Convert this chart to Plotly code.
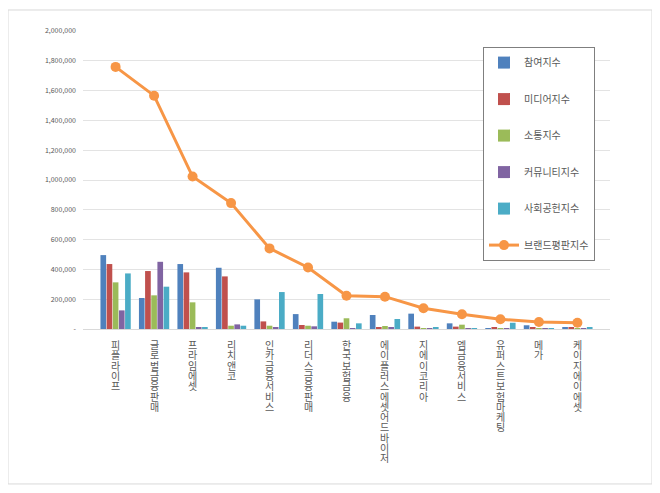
import plotly.graph_objects as go

categories = ["피플라이프", "글로벌금융판매", "프라임에셋", "리치앤코", "인카금융서비스",
              "리더스금융판매", "한국보험금융", "에이플러스에셋어드바이저", "지에이코리아",
              "엠금융서비스", "유퍼스트보험마케팅", "메가", "케이지에이에셋"]

participation = [496000, 208000, 436000, 411000, 199000, 100000, 49000, 94000, 103000, 38000, 3000, 25000, 11000]
media = [436000, 389000, 380000, 353000, 51000, 27000, 43000, 7000, 16000, 16000, 7000, 9000, 9000]
communication = [313000, 226000, 179000, 22000, 22000, 22000, 72000, 20000, 1000, 29000, 4000, 1000, 1000]
community = [125000, 451000, 8000, 31000, 9000, 18000, 4000, 7000, 500, 500, 500, 500, 500]
social = [373000, 284000, 13000, 22000, 248000, 235000, 38000, 67000, 7000, 4000, 42000, 1000, 11000]
brand = [1759000, 1566000, 1023000, 845000, 541000, 413000, 223000, 217000, 139000, 99000, 65000, 47000, 42000]

bar_names = ["참여지수", "미디어지수", "소통지수", "커뮤니티지수", "사회공헌지수"]
bar_colors = ["#4F81BD", "#C0504D", "#9BBB59", "#8064A2", "#4BACC6"]
line_name = "브랜드평판지수"
line_color = "#F79646"

ytick_vals = [0, 200000, 400000, 600000, 800000, 1000000, 1200000, 1400000, 1600000, 1800000, 2000000]
ytick_text = ["-", "200,000", "400,000", "600,000", "800,000", "1,000,000", "1,200,000",
              "1,400,000", "1,600,000", "1,800,000", "2,000,000"]

FONT = "Noto Sans CJK KR"
fig = go.Figure()
for i, (name, vals, col) in enumerate(zip(bar_names, [participation, media, communication, community, social], bar_colors)):
    fig.add_trace(go.Bar(x=categories, y=vals, name=name, marker=dict(color=col, line=dict(width=0)),
                         legendgroup=str(i)))
fig.add_trace(go.Scatter(x=categories, y=brand, name=line_name, mode="lines+markers",
                         line=dict(color=line_color, width=3),
                         marker=dict(color=line_color, size=10), legendgroup="5"))

# vertical (stacked, upright) category labels, one character per line
annotations = []
for cat in categories:
    for k, ch in enumerate(cat):
        annotations.append(dict(x=cat, xref="x", y=0, yref="paper", text=ch, showarrow=False,
                                xanchor="center", yanchor="top", yshift=-(6 + k * 10.3),
                                font=dict(size=10, family=FONT, color="#595959")))

fig.update_layout(
    width=652, height=485,
    margin=dict(l=75, r=50, t=23, b=164),
    paper_bgcolor="white", plot_bgcolor="white",
    font=dict(family=FONT, color="#595959"),
    barmode="group", bargap=0.2, bargroupgap=0.08,
    showlegend=True,
    legend=dict(x=0.759, y=0.946, xanchor="left", yanchor="top",
                bordercolor="#7F7F7F", borderwidth=1, bgcolor="white",
                font=dict(size=10, family=FONT, color="#595959"),
                tracegroupgap=17.5, traceorder="grouped"),
    xaxis=dict(showticklabels=False, showline=True, linecolor="#D9D9D9", ticks=""),
    yaxis=dict(range=[0, 2000000], tickvals=ytick_vals, ticktext=ytick_text,
               tickfont=dict(size=7, family=FONT, color="#595959"), ticklabelstandoff=6,
               showgrid=True, gridcolor="#E3E3E3", zeroline=False, ticks=""),
    annotations=annotations,
    shapes=[dict(type="rect", xref="paper", yref="paper",
                 x0=-0.1423, x1=1.0797, y0=-0.52, y1=1.0705,
                 line=dict(color="#D9D9D9", width=1), fillcolor="rgba(0,0,0,0)", layer="below")],
)

fig.write_html("out.html")
